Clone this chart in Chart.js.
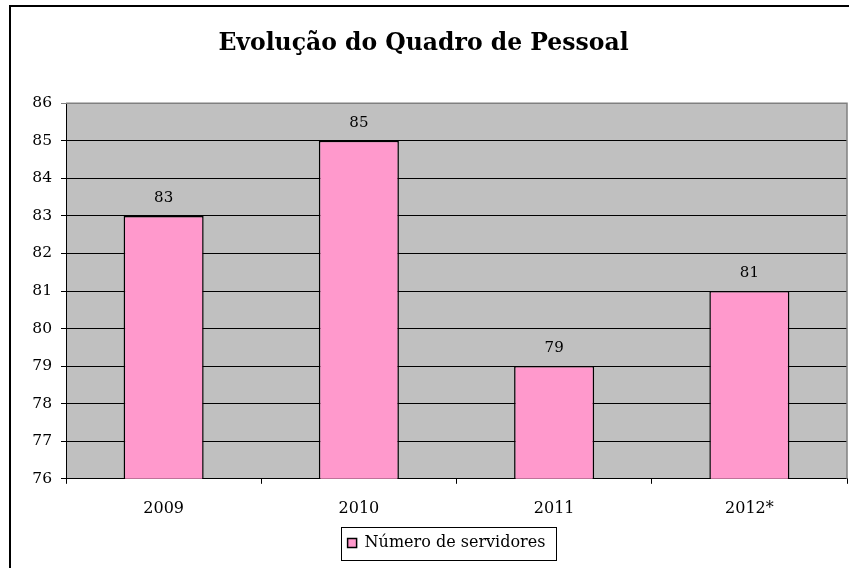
<!DOCTYPE html>
<html>
<head>
<meta charset="utf-8">
<script src="https://cdn.jsdelivr.net/npm/chart.js@4"></script>
<style>
  html, body { margin: 0; padding: 0; background: #fff; }
  #wrap { width: 849px; height: 568px; }
</style>
</head>
<body>
<div id="wrap"><canvas id="chart" width="849" height="568"></canvas></div>
<script>
// Chart data
const years = ['2009', '2010', '2011', '2012*'];
const servidores = [83, 85, 79, 81];
const seriesName = 'Número de servidores';
const chartTitle = 'Evolução do Quadro de Pessoal';

const serif = "Georgia, 'DejaVu Serif', serif";

// Gray plot background, outer frame and plot border
const framePlugin = {
  id: 'frame',
  afterLayout(chart) {
    // legend sits a little left of the plot centre
    chart.legend.left -= 10;
    chart.legend.right -= 10;
  },
  beforeDraw(chart) {
    const { ctx, chartArea: a } = chart;
    ctx.save();
    ctx.fillStyle = '#fff';
    ctx.fillRect(0, 0, chart.width, chart.height);
    ctx.fillStyle = '#C0C0C0';
    ctx.fillRect(a.left, a.top, a.right - a.left, a.bottom - a.top);
    ctx.strokeStyle = '#000';
    ctx.lineWidth = 2;
    ctx.strokeRect(10, 6, chart.width + 50, chart.height + 50);
    ctx.restore();
  },
  afterDraw(chart) {
    const { ctx, chartArea: a } = chart;
    ctx.save();
    ctx.strokeStyle = '#808080';
    ctx.lineWidth = 1.5;
    ctx.beginPath();
    ctx.moveTo(a.left, a.top);
    ctx.lineTo(a.right, a.top);
    ctx.lineTo(a.right, a.bottom);
    ctx.stroke();

    // box round the legend
    const hb = chart.legend.legendHitBoxes[0];
    if (hb) {
      ctx.strokeStyle = '#000';
      ctx.lineWidth = 1;
      ctx.strokeRect(Math.round(hb.left - 7) + 0.5, Math.round(hb.top - 8) + 0.5,
        Math.round(hb.width + 17), Math.round(hb.height + 17));
    }
    ctx.restore();
  }
};

// Value labels above bars
const valueLabels = {
  id: 'valueLabels',
  afterDatasetsDraw(chart) {
    const { ctx } = chart;
    const meta = chart.getDatasetMeta(0);
    ctx.save();
    ctx.font = '15px ' + serif;
    ctx.fillStyle = '#000';
    ctx.textAlign = 'center';
    ctx.textBaseline = 'middle';
    meta.data.forEach((bar, i) => {
      ctx.fillText(String(chart.data.datasets[0].data[i]), bar.x, bar.y - 18);
    });
    ctx.restore();
  }
};

new Chart(document.getElementById('chart'), {
  type: 'bar',
  data: {
    labels: years,
    datasets: [{
      label: seriesName,
      data: servidores,
      backgroundColor: '#FF99CC',
      borderColor: '#000',
      borderWidth: 1.5,
      barPercentage: 0.41,
      categoryPercentage: 1
    }]
  },
  options: {
    responsive: false,
    animation: false,
    layout: { padding: { left: 0, right: 2, top: 0, bottom: 7 } },
    plugins: {
      title: {
        display: true,
        text: chartTitle,
        color: '#000',
        font: { family: serif, size: 23.5, weight: 'bold' },
        padding: { top: 30, bottom: 45 }
      },
      legend: {
        position: 'bottom',
        fullSize: false,
        labels: {
          color: '#000',
          font: { family: serif, size: 16 },
          boxWidth: 9,
          boxHeight: 9,
          padding: 2
        }
      },
      tooltip: { enabled: false }
    },
    scales: {
      x: {
        grid: {
          drawOnChartArea: false,
          color: '#000',
          tickLength: 5
        },
        border: { color: '#000', width: 1 },
        ticks: {
          color: '#000',
          font: { family: serif, size: 16 },
          padding: 15
        }
      },
      y: {
        min: 76,
        max: 86,
        afterFit: s => { s.width = 66; },
        ticks: {
          stepSize: 1,
          color: '#000',
          font: { family: serif, size: 15.5 },
          padding: 9
        },
        grid: {
          color: ctx => ctx.tick && ctx.tick.value === 86 ? '#808080' : '#000',
          tickLength: 5
        },
        border: { color: '#000', width: 1 }
      }
    }
  },
  plugins: [framePlugin, valueLabels]
});
</script>
</body>
</html>
